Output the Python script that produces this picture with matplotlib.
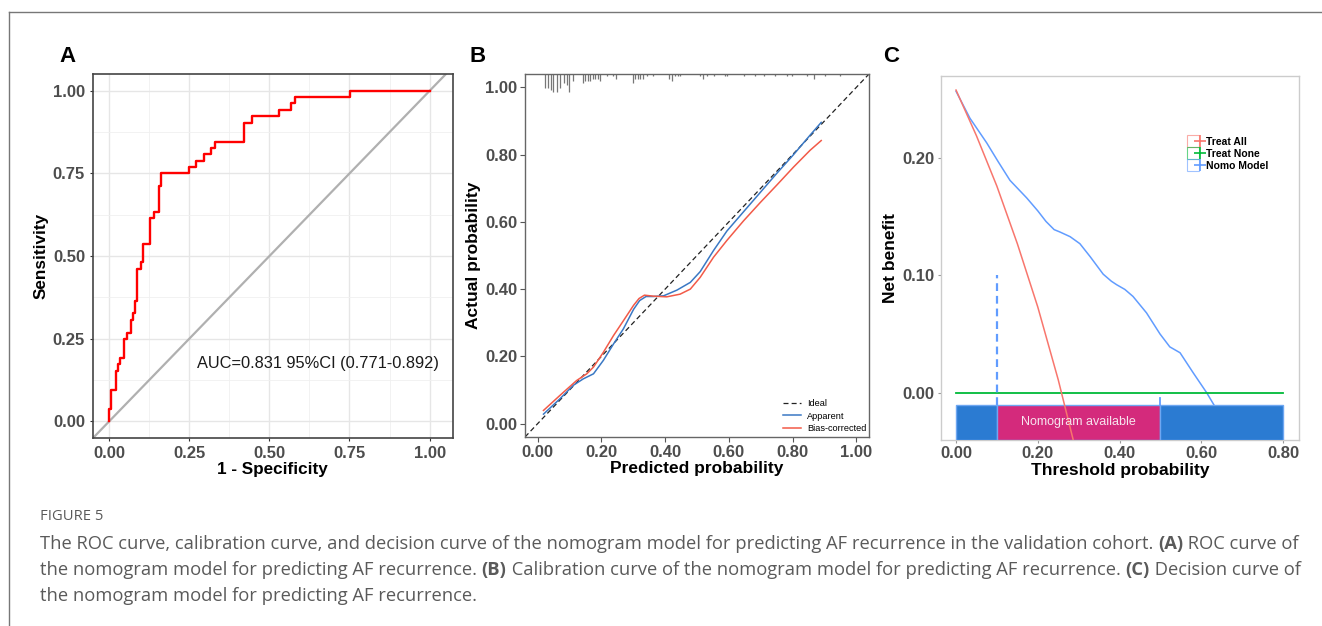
import matplotlib
matplotlib.use("Agg")
import matplotlib.pyplot as plt
from matplotlib.lines import Line2D
from matplotlib.legend_handler import HandlerTuple
from matplotlib.patches import Rectangle
import matplotlib.transforms as mtransforms

plt.rcParams['font.family'] = ['Liberation Sans', 'DejaVu Sans']

# ---------------- data ----------------
# Panel A: ROC curve (steps)
roc_fpr = [0, 0, 0.006, 0.022, 0.027, 0.034, 0.048, 0.055, 0.067, 0.074, 0.081, 0.087,
           0.100, 0.107, 0.128, 0.141, 0.155, 0.161, 0.250, 0.271, 0.297, 0.317, 0.330,
           0.420, 0.445, 0.529, 0.567, 0.581, 0.752, 1.0]
roc_tpr = [0, 0.038, 0.096, 0.154, 0.173, 0.192, 0.250, 0.269, 0.308, 0.327, 0.365, 0.462,
           0.481, 0.538, 0.615, 0.635, 0.712, 0.750, 0.769, 0.788, 0.808, 0.827, 0.846,
           0.904, 0.923, 0.942, 0.962, 0.981, 1.0, 1.0]
roc_ticks = [0.00, 0.25, 0.50, 0.75, 1.00]
auc_text = "AUC=0.831 95%CI (0.771-0.892)"

# Panel B: calibration
cal_app_x = [0.018, 0.070, 0.112, 0.143, 0.175, 0.206, 0.238, 0.269, 0.301, 0.320, 0.340,
             0.363, 0.395, 0.437, 0.479, 0.510, 0.552, 0.594, 0.646, 0.699, 0.751, 0.803,
             0.855, 0.890]
cal_app_y = [0.028, 0.074, 0.114, 0.133, 0.148, 0.188, 0.237, 0.282, 0.340, 0.366, 0.378,
             0.378, 0.380, 0.397, 0.420, 0.452, 0.515, 0.573, 0.630, 0.688, 0.745, 0.800,
             0.858, 0.896]
cal_bc_x = [0.018, 0.070, 0.122, 0.154, 0.175, 0.206, 0.238, 0.269, 0.301, 0.318, 0.335,
            0.363, 0.405, 0.447, 0.479, 0.510, 0.552, 0.594, 0.646, 0.699, 0.751, 0.803,
            0.855, 0.890]
cal_bc_y = [0.039, 0.084, 0.128, 0.148, 0.168, 0.212, 0.262, 0.306, 0.352, 0.372, 0.382,
            0.379, 0.377, 0.385, 0.400, 0.435, 0.495, 0.545, 0.603, 0.658, 0.710, 0.763,
            0.813, 0.842]
rug_x = [0.023, 0.033, 0.041, 0.049, 0.060, 0.070, 0.083, 0.091, 0.099, 0.112, 0.141, 0.149,
         0.157, 0.164, 0.173, 0.180, 0.188, 0.196, 0.217, 0.236, 0.246, 0.298, 0.306, 0.314,
         0.321, 0.332, 0.342, 0.363, 0.413, 0.421, 0.431, 0.439, 0.447, 0.510, 0.520, 0.531,
         0.552, 0.588, 0.594, 0.646, 0.683, 0.709, 0.746, 0.782, 0.798, 0.845, 0.866, 0.903, 0.950]
rug_n = [6, 6, 7, 8, 8, 6, 4, 5, 8, 3, 4, 3, 3, 3, 2, 2, 2, 3, 1, 1, 2, 4, 2, 2, 2, 2, 1, 1,
         2, 3, 1, 1, 1, 1, 2, 1, 1, 1, 1, 1, 1, 1, 1, 1, 1, 1, 2, 1, 1]
cal_ticks = [0.00, 0.20, 0.40, 0.60, 0.80, 1.00]

# Panel C: decision curve
dca_all_x = [0.00, 0.05, 0.10, 0.15, 0.20, 0.25, 0.29]
dca_all_y = [0.258, 0.219, 0.176, 0.127, 0.073, 0.011, -0.045]
dca_none_x = [0.0, 0.8]
dca_none_y = [0.0, 0.0]
dca_model_x = [0.000, 0.034, 0.075, 0.103, 0.132, 0.173, 0.200, 0.220, 0.240, 0.254, 0.279,
               0.303, 0.328, 0.360, 0.380, 0.393, 0.413, 0.433, 0.466, 0.499, 0.523, 0.548,
               0.580, 0.613, 0.631]
dca_model_y = [0.257, 0.234, 0.213, 0.197, 0.181, 0.166, 0.155, 0.146, 0.139, 0.137, 0.133,
               0.127, 0.116, 0.101, 0.095, 0.092, 0.088, 0.082, 0.068, 0.050, 0.039, 0.034,
               0.017, 0.000, -0.0105]
dca_ticks_x = [0.00, 0.20, 0.40, 0.60, 0.80]
dca_ticks_y = [0.00, 0.10, 0.20]
avail_range = [0.10, 0.50]
legend_c = ["Treat All", "Treat None", "Nomo Model"]
legend_b = ["Ideal", "Apparent", "Bias-corrected"]

caption_title = "FIGURE 5"
caption_lines = [
    [("The ROC curve, calibration curve, and decision curve of the nomogram model for predicting AF recurrence in the validation cohort. ", False),
     ("(A)", True), (" ROC curve of", False)],
    [("the nomogram model for predicting AF recurrence. ", False), ("(B)", True),
     (" Calibration curve of the nomogram model for predicting AF recurrence. ", False), ("(C)", True),
     (" Decision curve of", False)],
    [("the nomogram model for predicting AF recurrence.", False)],
]

# ---------------- figure ----------------
W, H = 1322, 626
fig = plt.figure(figsize=(W / 100, H / 100), dpi=100)
fig.patch.set_facecolor('white')
renderer = fig.canvas.get_renderer()


def box(l, t, r, b):
    return [l / W, 1 - b / H, (r - l) / W, (b - t) / H]

# frame
fig.add_artist(Line2D([9 / W, 1], [1 - 12 / H, 1 - 12 / H], color='#777777', lw=1.0))
fig.add_artist(Line2D([9 / W, 9 / W], [0, 1 - 12 / H], color='#777777', lw=1.0))

tick_col = '#4d4d4d'
tick_font = dict(fontsize=12, fontweight='bold', color=tick_col)

# ---------- Panel A ----------
axA = fig.add_axes(box(92.7, 74.3, 453, 438))
axA.set_xlim(-0.051, 1.073)
axA.set_ylim(-0.05, 1.05)
axA.set_xticks(roc_ticks)
axA.set_yticks(roc_ticks)
axA.set_xticks([0.125, 0.375, 0.625, 0.875], minor=True)
axA.set_yticks([0.125, 0.375, 0.625, 0.875], minor=True)
axA.set_xticklabels([f"{v:.2f}" for v in roc_ticks], **tick_font)
axA.set_yticklabels([f"{v:.2f}" for v in roc_ticks], **tick_font)
axA.grid(True, which='major', color='#e6e6e6', lw=1.0)
axA.grid(True, which='minor', color='#f0f0f0', lw=0.6)
axA.set_axisbelow(True)
axA.tick_params(which='both', length=0, pad=3)
axA.tick_params(which='major', length=2.5, color='#333333')
for s in axA.spines.values():
    s.set_color('#444444'); s.set_linewidth(1.2)
axA.axline((0, 0), (1, 1), color='#b0b0b0', lw=1.6)
axA.step(roc_fpr, roc_tpr, where='post', color='#ff0000', lw=1.7)
axA.text(0.273, 0.176, auc_text, fontsize=11.8, color='#1a1a1a', va='center', ha='left')
axA.set_xlabel("1 - Specificity", fontsize=12.3, fontweight='bold', labelpad=1)
axA.set_ylabel("Sensitivity", fontsize=12.3, fontweight='bold', labelpad=3)
fig.text(67 / W, 1 - 57 / H, "A", fontsize=16, fontweight='bold', ha='center', va='center')

# ---------- Panel B ----------
axB = fig.add_axes(box(525, 74, 869, 437))
axB.set_xlim(-0.04, 1.04)
axB.set_ylim(-0.04, 1.04)
axB.set_xticks(cal_ticks)
axB.set_yticks(cal_ticks)
axB.set_xticklabels([f"{v:.2f}" for v in cal_ticks], **tick_font)
axB.set_yticklabels([f"{v:.2f}" for v in cal_ticks], **tick_font)
axB.tick_params(length=3.5, color='#555555', pad=2)
for s in axB.spines.values():
    s.set_color('#666666'); s.set_linewidth(1.0)
axB.axline((0, 0), (1, 1), color='#222222', lw=0.9, ls=(0, (4, 2.5)), label=legend_b[0])
axB.plot(cal_app_x, cal_app_y, color='#3a78c4', lw=1.1, label=legend_b[1])
axB.plot(cal_bc_x, cal_bc_y, color='#f25a48', lw=1.1, label=legend_b[2])
trB = mtransforms.blended_transform_factory(axB.transData, axB.transAxes)
axB.vlines(rug_x, [1 - 0.0062 * n for n in rug_n], 1.0, transform=trB, color='#777777', lw=0.9)
legB = axB.legend(loc='lower right', frameon=False, fontsize=6.6, handlelength=1.9,
                  handletextpad=0.7, labelspacing=0.4, borderaxespad=0.0,
                  bbox_to_anchor=(1.003, 0.0))
axB.set_xlabel("Predicted probability", fontsize=12.5, fontweight='bold', labelpad=1)
axB.set_ylabel("Actual probability", fontsize=12.5, fontweight='bold', labelpad=3)
fig.text(478 / W, 1 - 57 / H, "B", fontsize=16, fontweight='bold', ha='center', va='center')

# ---------- Panel C ----------
axC = fig.add_axes(box(940.7, 76, 1299, 440))
axC.set_xlim(-0.0375, 0.839)
axC.set_ylim(-0.0404, 0.270)
axC.set_xticks(dca_ticks_x)
axC.set_yticks(dca_ticks_y)
axC.set_xticklabels([f"{v:.2f}" for v in dca_ticks_x], **tick_font)
axC.set_yticklabels([f"{v:.2f}" for v in dca_ticks_y], **tick_font)
axC.tick_params(length=2.5, color='#999999', pad=2)
for s in axC.spines.values():
    s.set_color('#cccccc'); s.set_linewidth(1.0)
c_all, c_none, c_model = '#F8766D', '#00BA38', '#619CFF'
axC.plot(dca_model_x, dca_model_y, color=c_model, lw=1.1, zorder=2)
axC.plot(dca_none_x, dca_none_y, color=c_none, lw=1.3, zorder=2)
bar_lo, bar_hi = -0.0404, -0.0105
axC.add_patch(Rectangle((0, bar_lo), avail_range[0], bar_hi - bar_lo, facecolor='#2b7bd2',
                        edgecolor='#6ea7f2', lw=1.0, zorder=3))
axC.add_patch(Rectangle((avail_range[0], bar_lo), avail_range[1] - avail_range[0], bar_hi - bar_lo,
                        facecolor='#d42a7c', edgecolor='#6ea7f2', lw=1.0, zorder=3))
axC.add_patch(Rectangle((avail_range[1], bar_lo), 0.8 - avail_range[1], bar_hi - bar_lo,
                        facecolor='#2b7bd2', edgecolor='#6ea7f2', lw=1.0, zorder=3))
axC.text(0.30, (bar_lo + bar_hi) / 2 + 0.0005, "Nomogram available", fontsize=9, color='#f7e4ee',
         ha='center', va='center', zorder=5)
axC.plot([avail_range[0], avail_range[0]], [bar_hi, 0.10], color=c_model, lw=1.6,
         ls=(0, (3.5, 2.2)), zorder=4)
axC.plot([avail_range[1], avail_range[1]], [bar_hi, -0.0045], color=c_model, lw=1.3, zorder=4)
axC.plot(dca_all_x, dca_all_y, color=c_all, lw=1.1, zorder=4)
axC.set_xlabel("Threshold probability", fontsize=12.5, fontweight='bold', labelpad=1)
axC.set_ylabel("Net benefit", fontsize=12.5, fontweight='bold', labelpad=3)

handles = []
for c in (c_all, c_none, c_model):
    sq = Line2D([], [], marker='s', ms=8, mfc='none', mec=c, mew=0.8, ls='', alpha=0.6)
    pl = Line2D([], [], marker='+', ms=8, mec=c, mew=1.2, ls='')
    handles.append((sq, pl))
axC.legend(handles, legend_c, handler_map={tuple: HandlerTuple(ndivide=None)},
           loc='upper left', bbox_to_anchor=(0.69, 0.845), frameon=False,
           prop=dict(size=7.5, weight='bold'), handlelength=0.9, handletextpad=0.45,
           labelspacing=0.2, borderaxespad=0)
fig.text(891 / W, 1 - 57 / H, "C", fontsize=16, fontweight='bold', ha='center', va='center')

# ---------- caption ----------
cap_col = '#5a5a5a'
cap_family = ['Open Sans', 'DejaVu Sans']

# size the title so that it spans the same width as in the reference
tt = fig.text(40 / W, 1 - 517 / H, caption_title, fontsize=10, color=cap_col, va='center',
              family=cap_family)
w10 = tt.get_window_extent(renderer=renderer).width
tt.set_fontsize(10 * 63.0 / w10)

# size the body so that the first line spans the same width as in the reference
probe = 0.0
for txt, bold in caption_lines[0]:
    t = fig.text(0, 0, txt, fontsize=10, family=cap_family, fontweight='bold' if bold else 'normal')
    probe += t.get_window_extent(renderer=renderer).width
    t.remove()
cap_size = 10 * 1262.0 / probe

line_y = [544, 570, 596]
for pieces, yy in zip(caption_lines, line_y):
    x = 40.0
    for txt, bold in pieces:
        t = fig.text(x / W, 1 - yy / H, txt, fontsize=cap_size, color=cap_col, va='center',
                     ha='left', fontweight='bold' if bold else 'normal', family=cap_family)
        bb = t.get_window_extent(renderer=renderer)
        x += bb.width

fig.savefig("out.png", dpi=100, facecolor='white')
